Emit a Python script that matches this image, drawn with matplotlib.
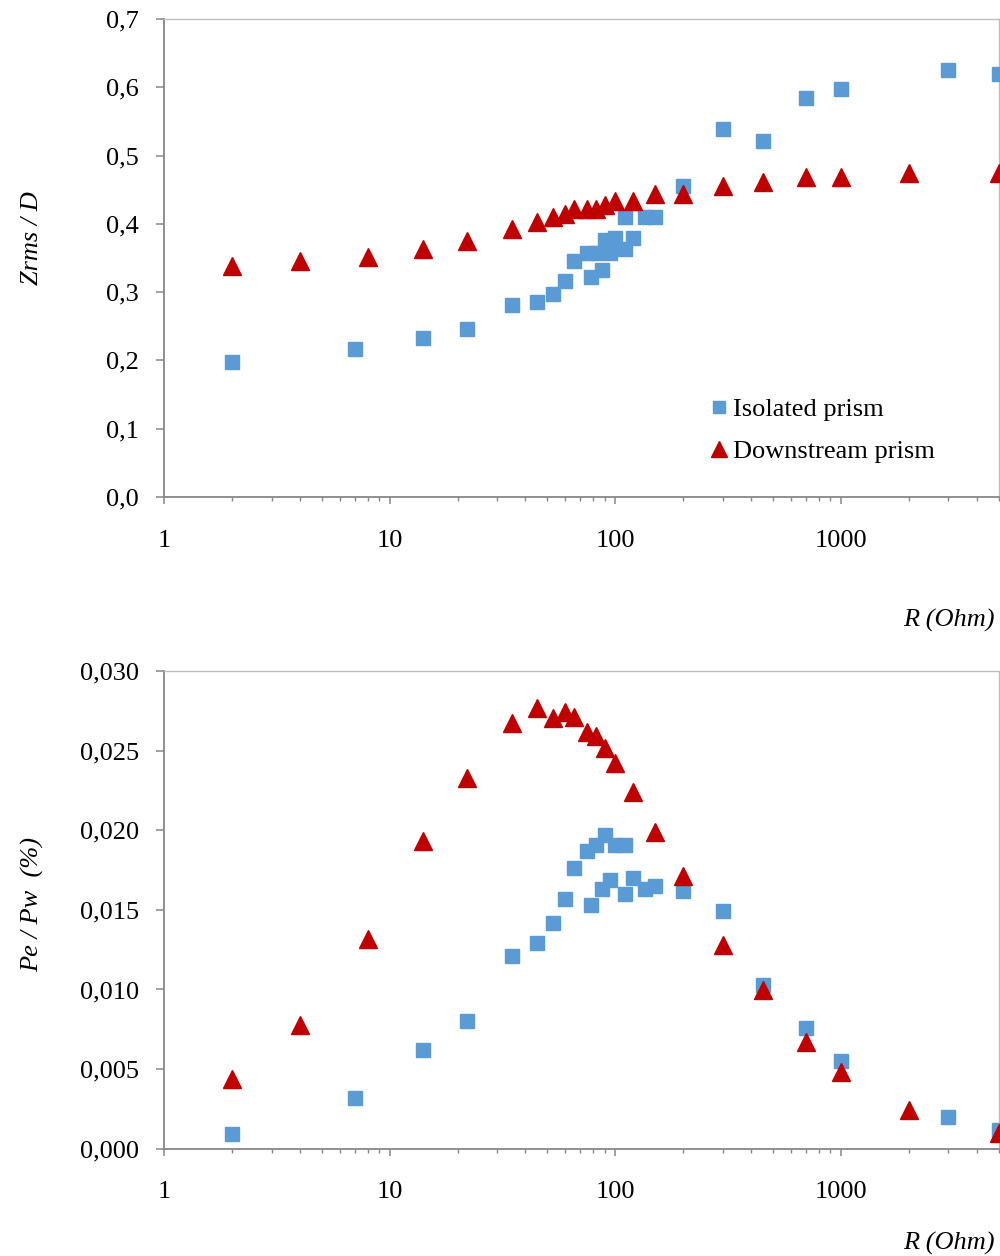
import matplotlib
matplotlib.use("Agg")
import matplotlib.pyplot as plt
from matplotlib.ticker import FuncFormatter, FixedLocator, LogLocator, NullFormatter

plt.rcParams['font.family'] = ['Liberation Serif', 'DejaVu Serif']

# ---- data ----
r_iso = [2, 7, 14, 22, 35, 45, 53, 60, 66, 75, 78, 82, 87, 90, 95, 100, 110, 110,
         120, 135, 150, 200, 300, 450, 700, 1000, 3000, 5000]
zrms_iso = [0.198, 0.217, 0.233, 0.246, 0.281, 0.286, 0.298, 0.316, 0.345, 0.357,
            0.322, 0.357, 0.333, 0.376, 0.357, 0.380, 0.363, 0.410,
            0.380, 0.410, 0.410, 0.456, 0.539, 0.521, 0.585, 0.597, 0.626, 0.620]
pe_iso = [0.00092, 0.00317, 0.0062, 0.00804, 0.0121, 0.0129, 0.0142, 0.0157, 0.0176, 0.0187,
          0.0153, 0.0191, 0.0163, 0.0197, 0.0169, 0.0191, 0.0191, 0.0160,
          0.0170, 0.0163, 0.0165, 0.0162, 0.0149, 0.0103, 0.0076, 0.00553, 0.00197, 0.00117]

r_down = [2, 4, 8, 14, 22, 35, 45, 53, 60, 66, 75, 82, 90, 100, 120, 150, 200,
          300, 450, 700, 1000, 2000, 5000]
zrms_down = [0.339, 0.345, 0.351, 0.363, 0.375, 0.392, 0.403, 0.410, 0.415, 0.422,
             0.422, 0.422, 0.427, 0.433, 0.433, 0.444, 0.444,
             0.455, 0.461, 0.468, 0.468, 0.474, 0.474]
pe_down = [0.0044, 0.00779, 0.0132, 0.0193, 0.0233, 0.02676, 0.02766, 0.02707, 0.02741, 0.02714,
           0.0262, 0.0259, 0.02515, 0.0242, 0.02242, 0.01991, 0.01715,
           0.0128, 0.00997, 0.0067, 0.00484, 0.00245, 0.00099]

label_iso = "Isolated prism"
label_down = "Downstream prism"
x_ticks = [1, 10, 100, 1000]
top_yticks = [0.0, 0.1, 0.2, 0.3, 0.4, 0.5, 0.6, 0.7]
bot_yticks = [0.0, 0.005, 0.010, 0.015, 0.020, 0.025, 0.030]

# ---- style ----
BLUE = "#5B9BD5"
RED = "#C00000"
AXC = "#878787"
FRAMEC = "#BDBDBD"
FS = 19

W, H = 1000, 1256
fig = plt.figure(figsize=(W / 100, H / 100), dpi=100)

def px_axes(l, t, r, b):
    return fig.add_axes([l / W, 1 - b / H, (r - l) / W, (b - t) / H])

ax1 = px_axes(164, 19, 998.5, 497)
ax2 = px_axes(164, 671, 998.5, 1148.7)

def style(ax, yticks, fmt):
    ax.set_xscale('log')
    ax.set_xlim(1, 5000)
    ax.set_ylim(yticks[0], yticks[-1])
    ax.xaxis.set_major_locator(FixedLocator(x_ticks))
    ax.xaxis.set_major_formatter(FuncFormatter(lambda v, p: f"{int(round(v))}"))
    ax.xaxis.set_minor_locator(LogLocator(base=10, subs=range(2, 10)))
    ax.xaxis.set_minor_formatter(NullFormatter())
    ax.yaxis.set_major_locator(FixedLocator(yticks))
    ax.yaxis.set_major_formatter(FuncFormatter(lambda v, p: fmt.format(v).replace('.', ',')))
    for s in ('left', 'bottom'):
        ax.spines[s].set_color(AXC)
        ax.spines[s].set_linewidth(1.3)
    for s in ('top', 'right'):
        ax.spines[s].set_color(FRAMEC)
        ax.spines[s].set_linewidth(1.0)
    ax.tick_params(axis='x', which='major', direction='out', length=5, width=1.1,
                   color=AXC, labelsize=FS, pad=18.5, top=False)
    ax.tick_params(axis='x', which='minor', direction='out', length=3, width=1.0,
                   color=AXC, top=False)
    ax.tick_params(axis='y', which='major', direction='out', length=6, width=1.1,
                   color=AXC, labelsize=FS, pad=12, right=False)
    ax.tick_params(axis='y', which='minor', left=False, right=False)

style(ax1, top_yticks, "{:.1f}")
style(ax2, bot_yticks, "{:.3f}")

for ax, yi, yd in ((ax1, zrms_iso, zrms_down), (ax2, pe_iso, pe_down)):
    ax.plot(r_iso, yi, linestyle='none', marker='s', markersize=10.2,
            color=BLUE, markeredgecolor=BLUE, label=label_iso, zorder=3)
    ax.plot(r_down, yd, linestyle='none', marker='^', markersize=13.2,
            color=RED, markeredgecolor=RED, label=label_down, zorder=4)

leg = ax1.legend(loc='upper left', bbox_to_anchor=((711.5 - 164) / 834.5, (497 - 398) / 478),
                 frameon=False, fontsize=FS, handlelength=0.55, handletextpad=0.25,
                 borderpad=0, borderaxespad=0, labelspacing=0.68, markerscale=0.85)

fig.text(32 / W, 1 - 238 / H, "Zrms / D", rotation=90, ha='center', va='center',
         fontsize=FS, style='italic')
fig.text(33 / W, 1 - 905 / H, "Pe / Pw  (%)", rotation=90, ha='center', va='center',
         fontsize=FS, style='italic')
fig.text(995 / W, 1 - 620 / H, "R (Ohm)", ha='right', va='center',
         fontsize=FS, style='italic')
fig.text(995 / W, 1 - 1243 / H, "R (Ohm)", ha='right', va='center',
         fontsize=FS, style='italic')

fig.savefig("out.png", dpi=100)
